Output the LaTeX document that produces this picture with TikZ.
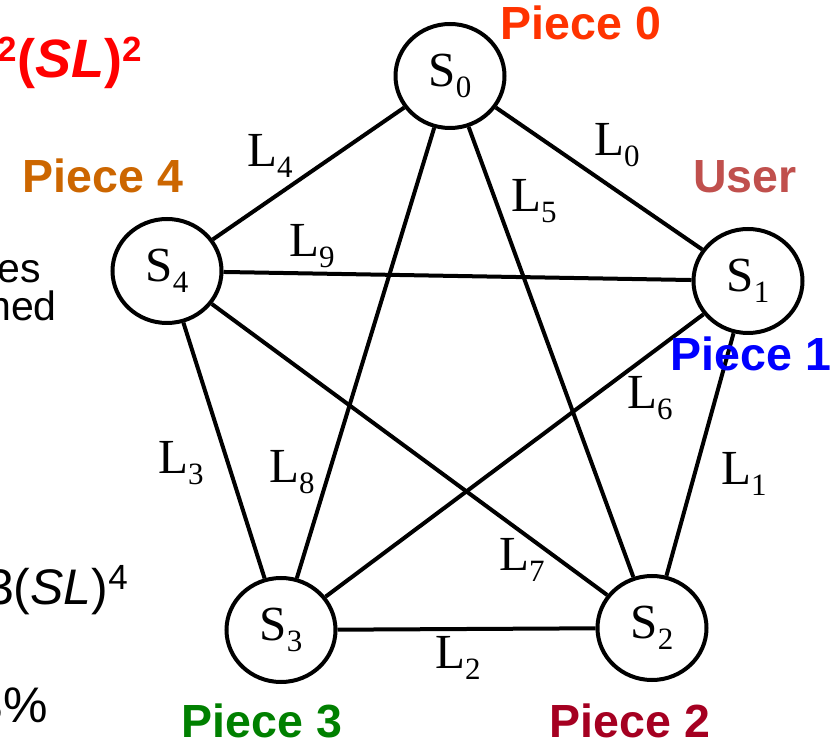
\documentclass[tikz,border=0pt]{standalone}
\usepackage{fontspec}
\setmainfont{Liberation Serif}
\newfontfamily\arialf{Liberation Sans}
\usetikzlibrary{shapes.geometric}
\definecolor{pieceZero}{HTML}{FF3300}
\definecolor{userCol}{HTML}{C0504D}
\definecolor{pieceFour}{HTML}{CC6600}
\definecolor{pieceOne}{HTML}{0000FF}
\definecolor{pieceThree}{HTML}{008000}
\definecolor{pieceTwo}{HTML}{A50021}
\definecolor{formulaRed}{HTML}{FF0000}
% lowered index digit after S or L
\newcommand\lowsub[1]{\raisebox{-0.22em}{\fontsize{31}{31}\selectfont #1}}
% raised exponent
\newcommand\highsup[1]{\raisebox{0.3em}{\fontsize{35}{35}\selectfont #1}}
\begin{document}
\begin{tikzpicture}[x=1pt,y=1pt,
  station/.style={ellipse, draw, line width=4pt, minimum width=109pt,
    minimum height=104pt, inner sep=0pt, font=\fontsize{49}{49}\selectfont},
  link/.style={line width=4pt},
  linklabel/.style={font=\fontsize{49}{49}\selectfont, inner sep=0pt},
  piece/.style={font=\arialf\bfseries\fontsize{46.5}{46.5}\selectfont, anchor=base, inner sep=0pt},
  side/.style={font=\arialf\fontsize{50}{50}\selectfont, anchor=base east, inner sep=0pt}]
\useasboundingbox (0,0) rectangle (838,742);
\clip (0,0) rectangle (838,742);

% stations
\node[station] (S0) at (450,666) {S\lowsub{0}};
\node[station] (S1) at (748,461) {S\lowsub{1}};
\node[station] (S2) at (652,114) {S\lowsub{2}};
\node[station] (S3) at (281,112) {S\lowsub{3}};
\node[station] (S4) at (167,471) {S\lowsub{4}};

% outer ring
\draw[link] (S0) -- (S1);
\draw[link] (S1) -- (S2);
\draw[link] (S2) -- (S3);
\draw[link] (S3) -- (S4);
\draw[link] (S4) -- (S0);
% inner star
\draw[link] (S0) -- (S2);
\draw[link] (S1) -- (S3);
\draw[link] (S2) -- (S4);
\draw[link] (S3) -- (S0);
\draw[link] (S4) -- (S1);

% link labels
\node[linklabel] (l0) at (617,597) {L\lowsub{0}};
\node[linklabel] (l1) at (744,268) {L\lowsub{1}};
\node[linklabel] (l2) at (458,84) {L\lowsub{2}};
\node[linklabel] (l3) at (181,279) {L\lowsub{3}};
\node[linklabel] (l4) at (270,586) {L\lowsub{4}};
\node[linklabel] (l5) at (534,541) {L\lowsub{5}};
\node[linklabel] (l6) at (650,344) {L\lowsub{6}};
\node[linklabel] (l7) at (522,182) {L\lowsub{7}};
\node[linklabel] (l8) at (292,270) {L\lowsub{8}};
\node[linklabel] (l9) at (312,496) {L\lowsub{9}};

% piece and role labels
\node[piece, text=pieceZero] (p0) at (581,702) {Piece 0};
\node[piece, text=userCol] (usr) at (745,549) {User};
\node[piece, text=pieceFour] (p4) at (103,549) {Piece 4};
\node[piece, text=pieceOne] (p1) at (751,371) {Piece 1};
\node[piece, text=pieceThree] (p3) at (262,5) {Piece 3};
\node[piece, text=pieceTwo] (p2) at (630,5) {Piece 2};

% text running in from the left
\node[side, font=\arialf\bfseries\fontsize{54}{54}\selectfont, text=formulaRed] (f1)
  at (142,664) {\highsup{2}(\textit{SL})\highsup{2}};
\node[side, font=\arialf\fontsize{41}{41}\selectfont] (t1) at (41,459) {es};
\node[side, font=\arialf\fontsize{41}{41}\selectfont] (t2) at (57,421) {ned};
\node[side] (f2) at (128,137) {3(\textit{SL})\highsup{4}};
\node[side] (t3) at (48,20) {3\%};
\end{tikzpicture}
\end{document}
